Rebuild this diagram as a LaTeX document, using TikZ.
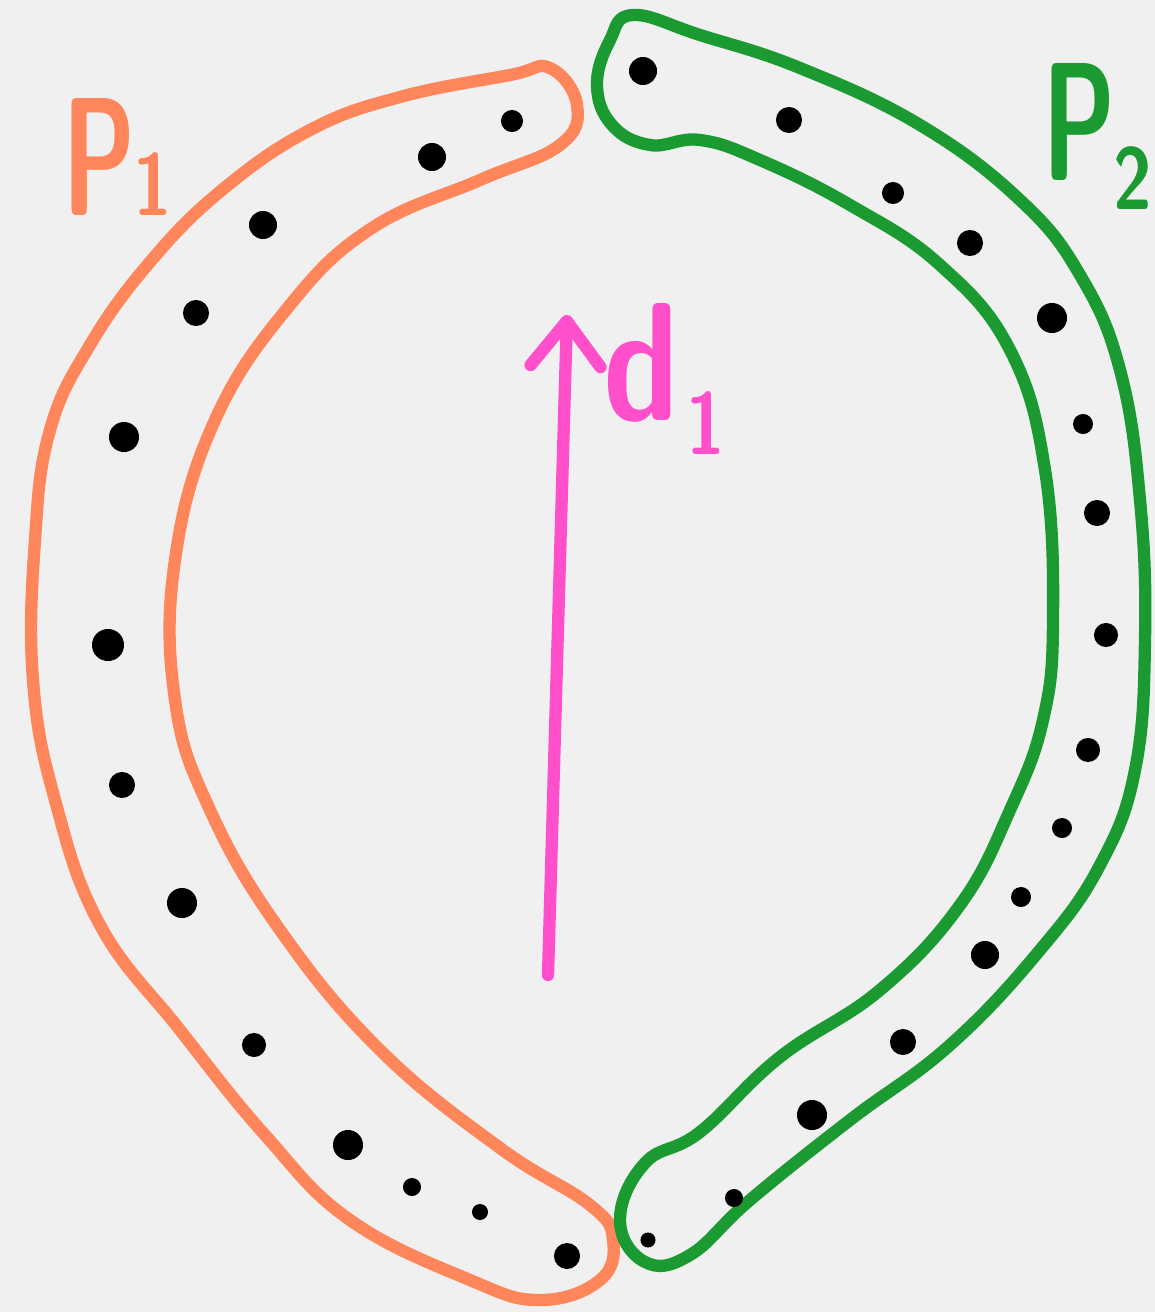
\documentclass[tikz,border=0pt]{standalone}
\usepackage{fontspec}
\usepackage{graphicx}
\usepackage{xcolor}
\usetikzlibrary{arrows.meta, positioning}

\definecolor{paper}{HTML}{F0F0F0}
\definecolor{pone}{HTML}{FF865A}
\definecolor{ptwo}{HTML}{1C9A32}
\definecolor{dpink}{HTML}{FF4FCA}

\newcommand{\lblmain}[2][0.62]{{\fontsize{96}{96}\selectfont\scalebox{#1}[1]{#2}}}
\newcommand{\lblsub}[1]{{\fontsize{50}{50}\selectfont\scalebox{0.8}[1]{#1}}}

\tikzset{
  band/.style={line width=7pt, line join=round, line cap=round},
  pt/.style={circle, fill=black, inner sep=0pt, minimum size=#1},
  lbl/.style={inner sep=0pt, anchor=base west, font=\sffamily\bfseries},
}

\begin{document}
\begin{tikzpicture}[x=0.02cm, y=-0.02cm]
  \fill[paper] (0,0) rectangle (1155,1312);
  \useasboundingbox (0,0) rectangle (1155,1312);
  % left band
  \draw[band, pone] plot[smooth cycle, tension=0.7] coordinates {
    (550,68) (577,105) (560,145) (480,180) (372,228) (290,305) (215,420)
    (175,560) (175,700) (210,810) (280,930) (380,1050) (500,1148)
    (590,1205) (613,1240) (600,1280) (540,1300) (470,1280) (350,1220)
    (265,1135) (180,1030) (100,925) (55,800) (33,680) (35,540) (50,430)
    (90,345) (150,262) (222,190) (310,130) (400,97) (510,75)};
  % right band
  \draw[band, ptwo] plot[smooth cycle, tension=0.7] coordinates {
    (633,15) (700,35) (800,68) (920,125) (1020,200) (1080,275) (1120,370)
    (1140,500) (1145,640) (1135,770) (1100,865) (1040,950) (950,1045)
    (850,1120) (750,1200) (690,1255) (645,1262) (620,1220) (645,1163)
    (700,1132) (780,1057) (880,990) (960,905) (1010,810) (1043,720)
    (1053,620) (1045,470) (1010,350) (940,265) (850,205) (760,160)
    (700,140) (650,145) (612,125) (597,85) (610,40)};
  % points of P1
  \foreach \x/\y/\s in {512/121/22, 432/157/28, 263/225/28, 196/313/26,
      124/437/30, 108/645/32, 122/785/26, 182/903/30, 254/1045/24,
      348/1145/30, 412/1187/18, 480/1212/16, 567/1256/26}
    \node[pt=\s pt*0.57] (a\x) at (\x,\y) {};
  % points of P2
  \foreach \x/\y/\s in {643/71/28, 789/120/26, 893/193/22, 970/243/26,
      1052/318/30, 1083/424/20, 1097/513/26, 1106/635/24, 1088/750/24,
      1062/828/20, 1021/897/20, 985/955/28, 903/1042/26, 812/1115/30,
      734/1198/18, 648/1240/15}
    \node[pt=\s pt*0.57] (b\x) at (\x,\y) {};
  % direction
  \coordinate (dtail) at (548,975);
  \coordinate (dhead) at (567,315);
  \draw[dpink, line width=7pt, line cap=round,
        -{Straight Barb[length=0.9cm, width=1.4cm, round]}] (dtail) -- (dhead);
  \node[lbl, dpink] (dlab) at (603,420)
    {\lblmain[0.8]{d}\hspace{0.15cm}\raisebox{-0.7cm}{\lblsub{1}}};
  \node[lbl, pone] (plab1) at (62,215) {\lblmain{P}\hspace{-0.05cm}\lblsub{1}};
  \node[lbl, ptwo] (plab2) at (1042,180)
    {\lblmain{P}\hspace{-0.05cm}\raisebox{-0.6cm}{\lblsub{2}}};
\end{tikzpicture}
\end{document}
